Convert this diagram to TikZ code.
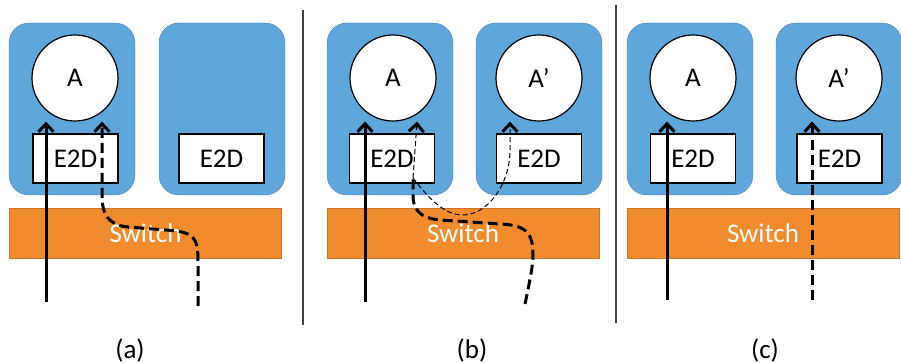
\documentclass[tikz,border=0pt]{standalone}
\usepackage{fontspec}
\setmainfont{Carlito}
\usetikzlibrary{arrows.meta}
\definecolor{hostblue}{RGB}{95,166,218}
\definecolor{hostedge}{RGB}{72,132,186}
\definecolor{switchorange}{RGB}{240,140,45}
\definecolor{switchedge}{RGB}{205,115,40}
\begin{document}
\begin{tikzpicture}[
  x=1pt, y=-1pt,
  font=\fontsize{27}{30}\selectfont,
  host/.style={draw=hostedge, fill=hostblue, rounded corners=20pt, minimum width=126pt, minimum height=172pt, inner sep=0pt},
  vm/.style={draw, fill=white, circle, minimum size=86pt, inner sep=0pt, line width=1.2pt},
  e2d/.style={draw, fill=white, minimum width=85pt, minimum height=49pt, inner sep=0pt, line width=1.5pt},
  swbar/.style={draw=switchedge, fill=switchorange, minimum width=272pt, minimum height=50pt, inner sep=0pt, text=white},
  flow/.style={line width=3pt, -{Straight Barb[length=8pt,width=15pt,line width=3pt]}},
  thinflow/.style={line width=1pt, dash pattern=on 5pt off 3pt, -{Straight Barb[length=8pt,width=15pt,line width=3pt]}},
  bolddash/.style={dash pattern=on 10pt off 5pt},
  divider/.style={draw=black!75, line width=1.5pt}
]
\useasboundingbox (0,0) rectangle (901,363);
% (a)
\node[host] (hostA1) at (72,109) {};
\node[host] (hostB1) at (222,109) {};
\node[vm] (vmA1) at (75,78) {A};
\node[e2d] (e2dA1) at (75.5,158.5) {E2D};
\node[e2d] (e2dB1) at (221.5,158.5) {E2D};
\node[swbar] (sw1) at (145.5,233) {Switch};
\coordinate (inA1) at (46,302);
\coordinate (inB1) at (198,306);
\draw[flow] (inA1) -- (inA1 |- vmA1.south);
\draw[flow, bolddash] (inB1) -- (198,262) .. controls (198,236) and (194,232) .. (165,230) -- (128,227) .. controls (108,225) and (102,214) .. (102,195) -- (102,195 |- vmA1.south);
\node (capA) at (130,350) {(a)};
\draw[divider] (303,10) -- (303,325);
% (b)
\node[host] (hostA2) at (390,109) {};
\node[host] (hostB2) at (539,109) {};
\node[vm] (vmA2) at (393,78) {A};
\node[vm] (vmB2) at (539,78) {A’};
\node[e2d] (e2dA2) at (392,158.5) {E2D};
\node[e2d] (e2dB2) at (539,158.5) {E2D};
\node[swbar] (sw2) at (463,233) {Switch};
\coordinate (inA2) at (365,302);
\coordinate (inB2) at (525,304);
\coordinate (fork2) at (413,178);
\draw[flow] (inA2) -- (inA2 |- vmA2.south);
\draw[line width=3pt, bolddash] (inB2) .. controls (530,280) and (533,265) .. (533,255) .. controls (533,232) and (525,225) .. (500,224) -- (440,220) .. controls (418,218) and (413,208) .. (413,195) -- (fork2);
\draw[thinflow] (fork2) -- (417,178 |- vmA2.south);
\draw[thinflow] (fork2) .. controls (430,200) and (445,215) .. (463,215) .. controls (487,215) and (510,185) .. (510,150) -- (510,150 |- vmB2.south);
\node (capB) at (472,350) {(b)};
\draw[divider] (616,5) -- (616,323);
% (c)
\node[host] (hostA3) at (690,109) {};
\node[host] (hostB3) at (839,109) {};
\node[vm] (vmA3) at (693,78) {A};
\node[vm] (vmB3) at (839,78) {A’};
\node[e2d] (e2dA3) at (693,158.5) {E2D};
\node[e2d] (e2dB3) at (839.5,158.5) {E2D};
\node[swbar] (sw3) at (763,233) {Switch};
\coordinate (inA3) at (667,300);
\coordinate (inB3) at (812,300);
\draw[flow] (inA3) -- (inA3 |- vmA3.south);
\draw[flow, bolddash] (inB3) -- (inB3 |- vmB3.south);
\node (capC) at (765,350) {(c)};
\end{tikzpicture}
\end{document}
